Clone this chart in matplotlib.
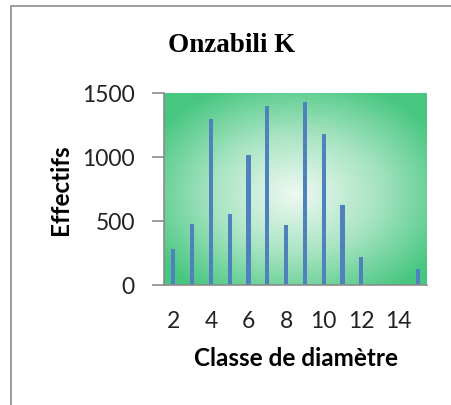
import numpy as np
import matplotlib
matplotlib.use('Agg')
import matplotlib.pyplot as plt
from matplotlib.colors import LinearSegmentedColormap
from matplotlib.patches import Rectangle

# diameter classes and counts
classes = [2, 3, 4, 5, 6, 7, 8, 9, 10, 11, 12, 13, 14, 15]
effectifs = [284, 474, 1297, 555, 1016, 1396, 466, 1427, 1177, 625, 216, 0, 0, 125]
tick_labels = ['2', '4', '6', '8', '10', '12', '14']

fig = plt.figure(figsize=(4.51, 4.06), dpi=100)
fig.patch.set_facecolor('white')

# outer chart frame
fig.patches.append(Rectangle((11/451, -0.1), 1.2, 1 - 7/406 + 0.1,
                             transform=fig.transFigure, fill=False,
                             edgecolor='#8c8c8c', linewidth=1.2))

ax = fig.add_axes([164/451, 1 - 286/406, 263/451, 192/406])

x = np.arange(len(classes))
ax.set_xlim(-0.5, len(classes) - 0.5)
ax.set_ylim(0, 1500)

# radial green background
gx, gy = np.meshgrid(np.linspace(-1, 1, 300), np.linspace(-1, 1, 220))
r = np.sqrt(((gx - 0.0) / 1.0) ** 2 + ((gy + 0.05) / 1.0) ** 2)
r = np.clip(r / 1.25, 0, 1)
cmap = LinearSegmentedColormap.from_list('g', ['#eef9f2', '#a8e4c2', '#46c67f'])
ax.imshow(r, cmap=cmap, extent=[-0.5, len(classes) - 0.5, 0, 1500],
          aspect='auto', zorder=0, origin='lower')

ax.bar(x, effectifs, width=0.22, color='#4f81bd', zorder=2)

ax.set_xticks(x[::2])
ax.set_xticklabels(tick_labels)
ax.set_yticks([0, 500, 1000, 1500])

for s in ['top', 'right']:
    ax.spines[s].set_visible(False)
ax.spines['left'].set_color('#8c8c8c')
ax.spines['bottom'].set_color('#8c8c8c')
ax.spines['left'].set_linewidth(1.2)
ax.spines['bottom'].set_linewidth(1.2)
ax.tick_params(axis='y', length=9, width=1.2, color='#8c8c8c', pad=12, labelsize=16.5)
ax.tick_params(axis='x', length=0, pad=18, labelsize=16.5)
for lab in ax.get_xticklabels() + ax.get_yticklabels():
    lab.set_fontfamily('Lato')
    lab.set_color('#222222')

ax.set_xlabel('Classe de diamètre', fontsize=17.5, fontweight='bold',
              fontfamily='Lato', labelpad=11)
ax.set_ylabel('Effectifs', fontsize=17.5, fontweight='bold',
              fontfamily='Lato', labelpad=7)

fig.text(232/451, 1 - 45/406, 'Onzabili K', fontsize=19.5, fontweight='bold',
         fontfamily='Liberation Serif', ha='center', va='center')

fig.savefig('out.png', dpi=100)
